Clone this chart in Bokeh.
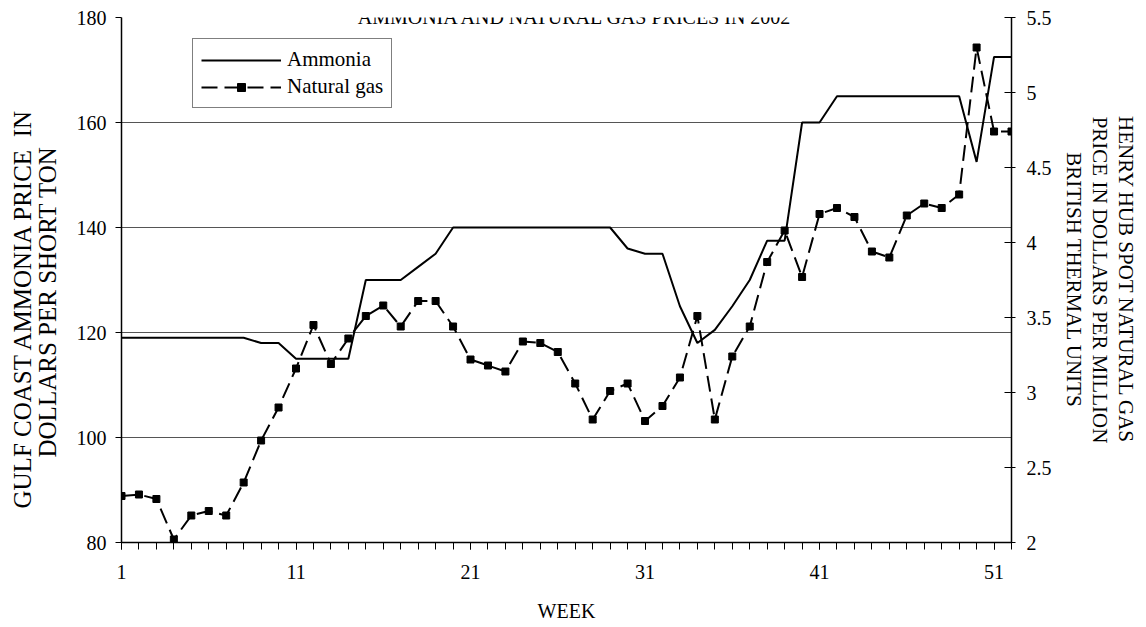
from bokeh.plotting import figure
from bokeh.models import (Range1d, LinearAxis, FixedTicker, CustomJSTickFormatter,
                          Legend, LegendItem, Label)
from bokeh.embed import file_html
from bokeh.resources import INLINE

# ---- data ----
weeks = list(range(1, 53))
ammonia = [119, 119, 119, 119, 119, 119, 119, 119, 118, 118,
           115, 115, 115, 115, 130, 130, 130, 132.5, 135, 140,
           140, 140, 140, 140, 140, 140, 140, 140, 140, 136,
           135, 135, 125, 118, 120.5, 125, 130, 137.5, 137.5, 160,
           160, 165, 165, 165, 165, 165, 165, 165, 165, 152.5,
           172.5, 172.5]
natural_gas = [2.31, 2.32, 2.29, 2.02, 2.18, 2.21, 2.18, 2.40, 2.68, 2.90,
               3.16, 3.45, 3.19, 3.36, 3.51, 3.58, 3.44, 3.61, 3.61, 3.44,
               3.22, 3.18, 3.14, 3.34, 3.33, 3.27, 3.06, 2.82, 3.01, 3.06,
               2.81, 2.91, 3.10, 3.51, 2.82, 3.24, 3.44, 3.87, 4.08, 3.77,
               4.19, 4.23, 4.17, 3.94, 3.90, 4.18, 4.26, 4.23, 4.32, 5.30,
               4.74, 4.74]
x_labeled_ticks = [1, 11, 21, 31, 41, 51]
left_ticks = [80, 100, 120, 140, 160, 180]
right_ticks = [2, 2.5, 3, 3.5, 4, 4.5, 5, 5.5]

title_text = "AMMONIA AND NATURAL GAS PRICES IN 2002"
x_title = "WEEK"
NB = "\u00a0"
# trailing no-break spaces push the visible left title slightly down, as in the source
left_title = ("GULF COAST AMMONIA PRICE" + NB + NB + "IN" + NB * 9 + "\n"
              + "DOLLARS PER SHORT TON" + NB * 7)
right_title = "HENRY HUB SPOT NATURAL GAS\nPRICE IN DOLLARS PER MILLION\nBRITISH THERMAL UNITS"

FONT = "Liberation Serif"

p = figure(width=1146, height=627, output_backend="svg", toolbar_location=None,
           x_range=Range1d(1, 52), y_range=Range1d(80, 180),
           min_border_left=121, min_border_right=135,
           min_border_top=17, min_border_bottom=85)
p.outline_line_color = None
p.background_fill_color = "white"
p.border_fill_color = "white"
p.extra_y_ranges = {"gas": Range1d(2, 5.5)}

# x axis
xa = p.xaxis[0]
xa.ticker = FixedTicker(ticks=x_labeled_ticks, minor_ticks=weeks)
xa.axis_label = x_title
xa.axis_label_text_font = FONT
xa.axis_label_text_font_size = "20px"
xa.axis_label_text_font_style = "normal"
xa.axis_label_text_color = "black"
xa.axis_label_text_line_height = 0.8
xa.axis_label_standoff = 18
xa.major_label_text_font = FONT
xa.major_label_text_font_size = "20px"
xa.major_label_text_color = "black"
xa.major_label_standoff = 15
xa.major_tick_in = 0
xa.major_tick_out = 7
xa.minor_tick_in = 0
xa.minor_tick_out = 7
xa.axis_line_color = "black"
xa.axis_line_width = 1.5
xa.major_tick_line_color = "black"
xa.minor_tick_line_color = "black"

# left y axis
ya = p.yaxis[0]
ya.ticker = FixedTicker(ticks=left_ticks, minor_ticks=[])
ya.axis_label = left_title
ya.axis_label_text_font = FONT
ya.axis_label_text_font_size = "25px"
ya.axis_label_text_font_style = "normal"
ya.axis_label_text_color = "black"
ya.axis_label_text_line_height = 0.92
ya.axis_label_standoff = 13
ya.major_label_text_font = FONT
ya.major_label_text_font_size = "20px"
ya.major_label_text_color = "black"
ya.major_label_standoff = 9
ya.major_tick_in = 0
ya.major_tick_out = 6
ya.axis_line_color = "black"
ya.axis_line_width = 1.5
ya.major_tick_line_color = "black"

# right y axis
ra = LinearAxis(y_range_name="gas",
                ticker=FixedTicker(ticks=right_ticks, minor_ticks=[]),
                formatter=CustomJSTickFormatter(code="return String(tick);"))
ra.axis_label = right_title
ra.axis_label_text_font = FONT
ra.axis_label_text_font_size = "21px"
ra.axis_label_text_font_style = "normal"
ra.axis_label_text_color = "black"
ra.axis_label_text_line_height = 1.1
ra.axis_label_standoff = 7
ra.major_label_text_font = FONT
ra.major_label_text_font_size = "20px"
ra.major_label_text_color = "black"
ra.major_label_standoff = 11
ra.major_tick_in = 7
ra.major_tick_out = 4
ra.axis_line_color = "black"
ra.axis_line_width = 1.5
ra.major_tick_line_color = "black"
p.add_layout(ra, "right")

# grid
p.xgrid.visible = False
p.ygrid.ticker = FixedTicker(ticks=left_ticks, minor_ticks=[])
p.ygrid.grid_line_color = "#555555"
p.ygrid.grid_line_width = 1

# data
amm = p.line(weeks, ammonia, line_color="black", line_width=2)
gas_line = p.line(weeks, natural_gas, y_range_name="gas", line_color="black",
                  line_width=2, line_dash="16 7")
gas_pts = p.scatter(weeks, natural_gas, y_range_name="gas", marker="square",
                    size=7, fill_color="black", line_color="black")

legend = Legend(items=[LegendItem(label="Ammonia", renderers=[amm]),
                       LegendItem(label="Natural gas", renderers=[gas_line, gas_pts])],
                location=(71, 434), glyph_width=80, glyph_height=20,
                label_standoff=6, spacing=2, padding=8, margin=0,
                border_line_color="black", border_line_width=1,
                background_fill_color="white", background_fill_alpha=1,
                label_text_font=FONT, label_text_font_size="21px",
                label_text_color="black")
p.add_layout(legend)

# title just above the frame
FL, FT, FW, FH = 121.0, 17.0, 890.0, 525.0
title_x = 1 + (575 - FL) * (52 - 1) / FW
title_y = 80 + (FT + FH - 16) * (180 - 80) / FH
p.add_layout(Label(x=title_x, y=title_y, text=title_text, text_font=FONT,
                   text_font_size="20px", text_align="center",
                   text_baseline="alphabetic", text_color="black"))

open("out.html", "w").write(file_html(p, INLINE))
